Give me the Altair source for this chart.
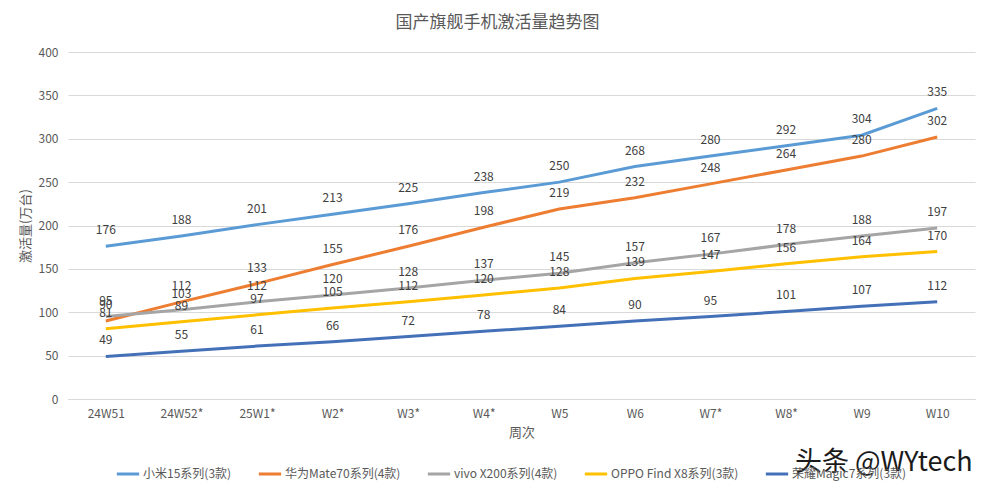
import altair as alt
import pandas as pd

weeks = ["24W51", "24W52*", "25W1*", "W2*", "W3*", "W4*", "W5", "W6", "W7*", "W8*", "W9", "W10"]
series_names = ["小米15系列(3款)", "华为Mate70系列(4款)", "vivo X200系列(4款)", "OPPO Find X8系列(3款)", "荣耀Magic7系列(3款)"]
xiaomi = [176, 188, 201, 213, 225, 238, 250, 268, 280, 292, 304, 335]
huawei = [90, 112, 133, 155, 176, 198, 219, 232, 248, 264, 280, 302]
vivo = [95, 103, 112, 120, 128, 137, 145, 157, 167, 178, 188, 197]
oppo = [81, 89, 97, 105, 112, 120, 128, 139, 147, 156, 164, 170]
honor = [49, 55, 61, 66, 72, 78, 84, 90, 95, 101, 107, 112]
colors = ["#5b9bd5", "#ed7d31", "#a5a5a5", "#ffc000", "#4470b8"]

rows = []
for name, vals in zip(series_names, [xiaomi, huawei, vivo, oppo, honor]):
    for w, v in zip(weeks, vals):
        rows.append({"周次": w, "系列": name, "激活量": v})
df = pd.DataFrame(rows)

FONT = "Noto Sans CJK SC"
TXT = "#595959"

x = alt.X("周次:N", sort=weeks, title="周次",
          scale=alt.Scale(paddingInner=0, paddingOuter=0.5),
          axis=alt.Axis(labelAngle=0, labelFont=FONT, labelFontSize=12, labelColor=TXT,
                        titleFont=FONT, titleFontSize=13, titleColor=TXT, titleFontWeight="normal",
                        ticks=False, domain=True, domainColor="#d9d9d9", labelPadding=9,
                        titlePadding=7, grid=False))
y = alt.Y("激活量:Q", title="激活量(万台)",
          scale=alt.Scale(domain=[0, 400]),
          axis=alt.Axis(values=[0, 50, 100, 150, 200, 250, 300, 350, 400], labelFont=FONT,
                        labelFontSize=12, labelColor=TXT, titleFont=FONT, titleFontSize=13,
                        titleColor=TXT, titleFontWeight="normal", ticks=False, domain=False,
                        gridColor="#d9d9d9", labelPadding=10, titlePadding=6))
color = alt.Color("系列:N", sort=series_names,
                  scale=alt.Scale(domain=series_names, range=colors),
                  legend=alt.Legend(title=None, orient="none", legendX=47, legendY=409,
                                    direction="horizontal", columns=5, symbolType="stroke",
                                    symbolSize=500, symbolStrokeWidth=3, labelFont=FONT,
                                    labelFontSize=12, labelColor=TXT, labelOffset=2,
                                    columnPadding=20, symbolOffset=0))

base = alt.Chart(df)
lines = base.mark_line(strokeWidth=3).encode(x=x, y=y, color=color)
labels = base.mark_text(dy=-16, font=FONT, fontSize=12, color="#404040").encode(
    x=alt.X("周次:N", sort=weeks), y="激活量:Q", text="激活量:Q")

wm_df = pd.DataFrame({"t": ["头条 @WYtech"]})
watermark = alt.Chart(wm_df).mark_text(align="left", baseline="middle", font=FONT,
                                       fontSize=27, color="#1a1a1a").encode(
    x=alt.value(727), y=alt.value(411), text="t:N")

chart = alt.layer(lines, labels, watermark).properties(
    width=907, height=347,
    title=alt.TitleParams("国产旗舰手机激活量趋势图", font=FONT, fontSize=17, color=TXT,
                          fontWeight="normal", offset=14, dx=-24),
    autosize=alt.AutoSizeParams(type="none"),
    padding={"left": 60, "top": 44, "right": 9, "bottom": 84},
).configure_view(stroke=None)

chart.save("out.html", embed_options={"renderer": "svg", "actions": False})
